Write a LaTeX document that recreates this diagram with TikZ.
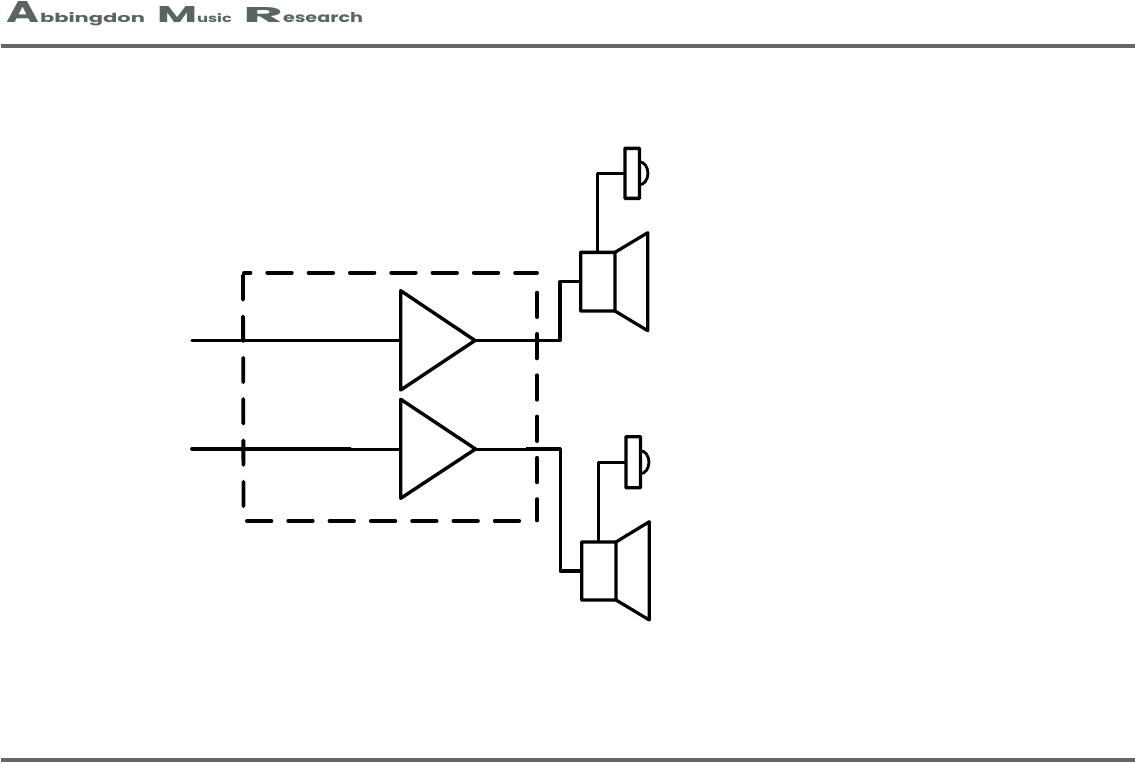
\documentclass[tikz,border=0pt]{standalone}
\usepackage{fontspec}
\setmainfont{Poppins}
\definecolor{logo}{HTML}{5A6464}
\definecolor{rule}{HTML}{666666}
\tikzset{
  x=1pt,y=-1pt,
  logotext/.style={inner sep=0,outer sep=0,anchor=base west,text=logo,font=\bfseries},
  rulebar/.style={draw=rule,line width=4.2pt},
  thickwire/.style={line width=3.4pt,line cap=round,line join=round},
  wire/.style={line width=3pt,line join=round},
  thinwire/.style={line width=3pt},
  amp/.style={line width=3.4pt,line join=round},
  driver/.style={draw,rectangle,line width=3.4pt,minimum width=#1,inner sep=0,outer sep=0,rounded corners=0.6pt},
  mic/.style={draw,rectangle,line width=3.4pt,minimum width=14.5pt,minimum height=50pt,inner sep=0,outer sep=0,rounded corners=0.6pt},
  cone/.style={line width=3.2pt,line join=round,line cap=round},
  dashline/.style={line width=3.8pt,line cap=round,dash pattern=on 24.5pt off 16.8pt},
  dome/.style={line width=2.8pt},
}
\begin{document}
\begin{tikzpicture}
\useasboundingbox (0,0) rectangle (1135,763);
% logo
\node[logotext] (la) at (7,22) {\resizebox{33pt}{21pt}{A}};
\node[logotext] (lb) at (40,22) {\resizebox{105pt}{10pt}{bbingdon}};
\node[logotext] (lm) at (157,22) {\resizebox{40pt}{16pt}{M}};
\node[logotext] (lu) at (197,22) {\resizebox{35pt}{9pt}{usic}};
\node[logotext] (lr) at (243,22) {\resizebox{40pt}{15pt}{R}};
\node[logotext] (le) at (283,22) {\resizebox{80pt}{10pt}{esearch}};
% rules
\draw[rulebar] (1,46) -- (1135,46);
\draw[rulebar] (1,760) -- (1135,760);
% dashed enclosure
\draw[dashline,dash phase=18pt] (244,272.7) -- (537,272.7);
\draw[dashline] (243,275.2) -- (243.5,508);
\draw[dashline] (246.9,521) -- (520,521);
\draw[dashline] (537,292.6) -- (537,520.5);
% amplifiers
\coordinate (a1t) at (400.7,290.7);
\coordinate (a1b) at (400.7,390);
\coordinate (a1o) at (475,340.5);
\coordinate (a1i) at (400.7,340.5);
\coordinate (a2t) at (400.7,399.3);
\coordinate (a2b) at (400.7,498.3);
\coordinate (a2o) at (475.5,449);
\coordinate (a2i) at (400.7,449);
\draw[amp] (a1t) -- (a1o) -- (a1b) -- cycle;
\draw[amp] (a2t) -- (a2o) -- (a2b) -- cycle;
% drivers
\node[driver=34.3pt,minimum height=58.7pt] (d1) at (597.85,281.65) {};
\node[driver=34.3pt,minimum height=58pt] (d2) at (598.85,571) {};
\draw[cone] (d1.north east) -- (647.7,232.7) -- (647.7,330.7) -- (d1.south east);
\draw[cone] (d2.north east) -- (649.3,521.7) -- (649.3,620) -- (d2.south east);
% tweeters
\node[mic] (m1) at (632.2,173.3) {};
\node[mic,minimum height=51pt] (m2) at (633.2,462.2) {};
\draw[dome] (m1.east) ++(0,-11.5) arc[start angle=-90,end angle=90,x radius=8.5,y radius=11.5];
\draw[dome] (m2.east) ++(0,-11.5) arc[start angle=-90,end angle=90,x radius=8.5,y radius=11.5];
% inputs
\coordinate (i1) at (192,340.5);
\coordinate (i1m) at (350,340.5);
\coordinate (i2) at (192,449);
\coordinate (i2m) at (350,449);
\draw[thickwire] (i1) -- (i1m);
\draw[thinwire] (i1m) -- (a1i);
\draw[thickwire,line width=3.8pt] (i2) -- (i2m);
\draw[thinwire] (i2m) -- (a2i);
% outputs
\coordinate (o1m) at (526,340.5);
\coordinate (o1c) at (560,340.5);
\coordinate (o1d) at (560,281.7);
\coordinate (o2m) at (526,449);
\coordinate (o2c) at (560.3,449);
\coordinate (o2d) at (560.3,570.7);
\draw[thinwire] (a1o) -- (o1m);
\draw[wire,line width=3.2pt] (o1m) -- (o1c) -- (o1d) -- (d1.west |- o1d);
\draw[thinwire] (a2o) -- (o2m);
\draw[wire,line width=3.6pt] (o2m) -- (o2c) -- (o2d) -- (d2.west |- o2d);
% driver to tweeter
\coordinate (w1) at (597.3,173.3);
\coordinate (w2) at (598.7,462.2);
\draw[wire] (w1 |- d1.north) -- (w1) -- (m1.west);
\draw[wire,line width=3.4pt] (w2 |- d2.north) -- (w2) -- (m2.west);
\end{tikzpicture}
\end{document}
